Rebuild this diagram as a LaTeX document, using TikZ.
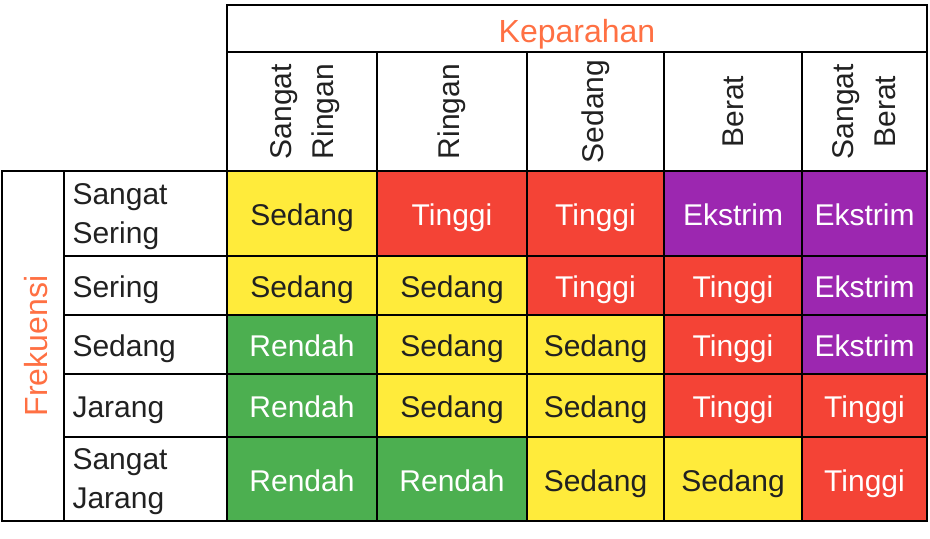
\documentclass[tikz,border=0pt]{standalone}
\usepackage{fontspec}
\setmainfont{Liberation Sans}
\usepackage{xcolor}
\definecolor{lvlgreen}{HTML}{4CAF50}
\definecolor{lvlyellow}{HTML}{FFEB3B}
\definecolor{lvlred}{HTML}{F44336}
\definecolor{lvlpurple}{HTML}{9C27B0}
\definecolor{axisorange}{HTML}{FF7043}
\definecolor{textdark}{HTML}{212121}

\begin{document}
\begin{tikzpicture}[
    x=0.5pt, y=-0.5pt,
    cell/.style={rectangle, draw, line width=1pt, outer sep=0pt, inner sep=0pt, text=textdark, font=\fontsize{15}{20}\selectfont},
    oneline/.style={text height=12.4pt, text depth=0pt},
    twoline/.style={text depth=0pt},
    axis/.style={cell, text=axisorange, text height=14pt, text depth=0pt, font=\fontsize{16}{20}\selectfont},
    sevlabel/.style={cell, rotate=90, align=center, minimum width=59.5pt, font=\fontsize{15}{21}\selectfont},
    rowlabel/.style={cell, align=left, text width=73pt, inner xsep=4.25pt, font=\fontsize{15}{19.5}\selectfont},
    rowtwo/.style={text depth=19.5pt},
    low/.style={cell, oneline, fill=lvlgreen, text=white},
    mid/.style={cell, oneline, fill=lvlyellow},
    high/.style={cell, oneline, fill=lvlred, text=white},
    extreme/.style={cell, oneline, fill=lvlpurple, text=white},
    colA/.style={minimum width=75pt}, colB/.style={minimum width=75pt},
    colC/.style={minimum width=68.5pt}, colD/.style={minimum width=69pt},
    colE/.style={minimum width=62.5pt},
    rowA/.style={minimum height=42.5pt}, rowB/.style={minimum height=29.5pt},
    rowC/.style={minimum height=29.5pt}, rowD/.style={minimum height=31.5pt},
    rowE/.style={minimum height=42pt}
]
\useasboundingbox (0,0) rectangle (930,538);

% Severity header
\node[axis, minimum width=350pt, minimum height=23.5pt] (sev) at (577,28.5) {Keparahan};
\node[sevlabel, twoline, minimum height=75pt] (sevA) at (302,111.5) {Sangat\\Ringan};
\node[sevlabel, minimum height=75pt] (sevB) at (452,111.5) {Ringan};
\node[sevlabel, minimum height=68.5pt] (sevC) at (595.5,111.5) {Sedang};
\node[sevlabel, minimum height=69pt] (sevD) at (733,111.5) {Berat};
\node[sevlabel, twoline, minimum height=62.5pt] (sevE) at (864.5,111.5) {Sangat\\Berat};

% Frequency header
\node[axis, rotate=90, minimum width=175pt, minimum height=31pt] (freq) at (33,346) {Frekuensi};
\node[rowlabel, rowtwo, rowA] (fqA) at (145.5,213.5) {Sangat\\Sering};
\node[rowlabel, oneline, rowB] (fqB) at (145.5,285.5) {Sering};
\node[rowlabel, oneline, rowC] (fqC) at (145.5,344.5) {Sedang};
\node[rowlabel, oneline, rowD] (fqD) at (145.5,405.5) {Jarang};
\node[rowlabel, rowtwo, rowE] (fqE) at (145.5,479) {Sangat\\Jarang};

% Row: Sangat Sering
\node[mid, colA, rowA] (c11) at (302,213.5) {Sedang};
\node[high, colB, rowA] (c12) at (452,213.5) {Tinggi};
\node[high, colC, rowA] (c13) at (595.5,213.5) {Tinggi};
\node[extreme, colD, rowA] (c14) at (733,213.5) {Ekstrim};
\node[extreme, colE, rowA] (c15) at (864.5,213.5) {Ekstrim};

% Row: Sering
\node[mid, colA, rowB] (c21) at (302,285.5) {Sedang};
\node[mid, colB, rowB] (c22) at (452,285.5) {Sedang};
\node[high, colC, rowB] (c23) at (595.5,285.5) {Tinggi};
\node[high, colD, rowB] (c24) at (733,285.5) {Tinggi};
\node[extreme, colE, rowB] (c25) at (864.5,285.5) {Ekstrim};

% Row: Sedang
\node[low, colA, rowC] (c31) at (302,344.5) {Rendah};
\node[mid, colB, rowC] (c32) at (452,344.5) {Sedang};
\node[mid, colC, rowC] (c33) at (595.5,344.5) {Sedang};
\node[high, colD, rowC] (c34) at (733,344.5) {Tinggi};
\node[extreme, colE, rowC] (c35) at (864.5,344.5) {Ekstrim};

% Row: Jarang
\node[low, colA, rowD] (c41) at (302,405.5) {Rendah};
\node[mid, colB, rowD] (c42) at (452,405.5) {Sedang};
\node[mid, colC, rowD] (c43) at (595.5,405.5) {Sedang};
\node[high, colD, rowD] (c44) at (733,405.5) {Tinggi};
\node[high, colE, rowD] (c45) at (864.5,405.5) {Tinggi};

% Row: Sangat Jarang
\node[low, colA, rowE] (c51) at (302,479) {Rendah};
\node[low, colB, rowE] (c52) at (452,479) {Rendah};
\node[mid, colC, rowE] (c53) at (595.5,479) {Sedang};
\node[mid, colD, rowE] (c54) at (733,479) {Sedang};
\node[high, colE, rowE] (c55) at (864.5,479) {Tinggi};

\end{tikzpicture}
\end{document}
